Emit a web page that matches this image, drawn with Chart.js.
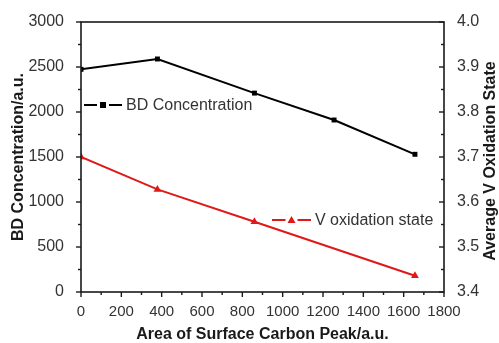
<!DOCTYPE html>
<html>
<head>
<meta charset="utf-8">
<script src="https://cdn.jsdelivr.net/npm/chart.js@4"></script>
<style>
  html, body { margin: 0; padding: 0; background: #fff; }
  #wrap { width: 499px; height: 343px; }
</style>
</head>
<body>
<div id="wrap"><canvas id="chart" width="499" height="343"></canvas></div>
<script>
// BD concentration vs surface carbon peak area
const bdArea = [0, 379, 860, 1255, 1656]
const bdConc = [2474, 2589, 2210, 1911, 1530]

// average V oxidation state (right axis)
const vArea = [0, 379, 860, 1656]
const vState = [3.70, 3.628, 3.556, 3.436]

const xTicks = [0, 200, 400, 600, 800, 1000, 1200, 1400, 1600, 1800]
const bdTicks = [0, 500, 1000, 1500, 2000, 2500, 3000]
const vTicks = [3.4, 3.5, 3.6, 3.7, 3.8, 3.9, 4.0]

const FONT = '"Liberation Sans", Arial, sans-serif'
const RED = 'rgb(224, 24, 24)'
const INK = '#1a1a1a'

const toPoints = (xs, ys) => xs.map((x, i) => ({ x, y: ys[i] }))

// fixed scale boxes so the plot area sits where it should
const fixWidth = (w) => (scale) => { scale.width = w }
const fixHeight = (h) => (scale) => { scale.height = h }

// frame, ticks (major + minor), right title and in-plot legends
const framePlugin = {
  id: 'frame',
  afterDraw (chart) {
    const { ctx, chartArea: a, scales } = chart
    const x = scales.x
    const yl = scales.y
    const yr = scales.y1
    ctx.save()
    ctx.strokeStyle = INK
    ctx.lineWidth = 1.6
    ctx.strokeRect(a.left, a.top, a.right - a.left, a.bottom - a.top)

    ctx.lineWidth = 1.4
    const line = (x0, y0, x1, y1) => {
      ctx.beginPath(); ctx.moveTo(x0, y0); ctx.lineTo(x1, y1); ctx.stroke()
    }
    // bottom axis, outward
    for (let i = 0; i < xTicks.length; i++) {
      const px = x.getPixelForValue(xTicks[i])
      line(px, a.bottom, px, a.bottom + 5)
      if (i < xTicks.length - 1) {
        const mx = x.getPixelForValue((xTicks[i] + xTicks[i + 1]) / 2)
        line(mx, a.bottom, mx, a.bottom + 3)
      }
    }
    // left axis, outward
    for (let i = 0; i < bdTicks.length; i++) {
      const py = yl.getPixelForValue(bdTicks[i])
      line(a.left - 5, py, a.left, py)
      if (i < bdTicks.length - 1) {
        const my = yl.getPixelForValue((bdTicks[i] + bdTicks[i + 1]) / 2)
        line(a.left - 3, my, a.left, my)
      }
    }
    // right axis, inward
    for (let i = 0; i < vTicks.length; i++) {
      const py = yr.getPixelForValue(vTicks[i])
      line(a.right - 5, py, a.right, py)
      if (i < vTicks.length - 1) {
        const my = yr.getPixelForValue((vTicks[i] + vTicks[i + 1]) / 2)
        line(a.right - 3, my, a.right, my)
      }
    }

    // right axis title reads bottom-to-top
    ctx.save()
    ctx.translate(491, (a.top + a.bottom) / 2 + 4)
    ctx.rotate(-Math.PI / 2)
    ctx.font = 'bold 16px ' + FONT
    ctx.fillStyle = INK
    ctx.textAlign = 'center'
    ctx.textBaseline = 'middle'
    ctx.fillText('Average V Oxidation State', 0, 0)
    ctx.restore()

    // legends
    const drawKey = (ds, x0, x1, y, tx) => {
      const mid = (x0 + x1) / 2
      ctx.strokeStyle = ds.borderColor
      ctx.lineWidth = 2
      line(x0, y, mid - 6, y)
      line(mid + 6, y, x1, y)
      ctx.fillStyle = ds.borderColor
      if (ds.pointStyle === 'rect') {
        ctx.fillRect(mid - 3, y - 3, 6, 6)
      } else {
        ctx.beginPath()
        ctx.moveTo(mid, y - 4); ctx.lineTo(mid + 4, y + 3); ctx.lineTo(mid - 4, y + 3)
        ctx.closePath(); ctx.fill()
      }
      ctx.font = '16px ' + FONT
      ctx.fillStyle = '#333'
      ctx.textAlign = 'left'
      ctx.textBaseline = 'middle'
      ctx.fillText(ds.label, tx, y + 1)
    }
    const sets = chart.data.datasets
    drawKey(sets[0], 84, 122, 105, 126)
    drawKey(sets[1], 272, 311, 220, 315)
    ctx.restore()
  }
}

new Chart(document.getElementById('chart'), {
  type: 'line',
  data: {
    datasets: [
      {
        label: 'BD Concentration',
        data: toPoints(bdArea, bdConc),
        yAxisID: 'y',
        borderColor: '#000',
        backgroundColor: '#000',
        borderWidth: 2,
        pointStyle: 'rect',
        pointRadius: 3.5,
        pointBorderWidth: 0,
        tension: 0
      },
      {
        label: 'V oxidation state',
        data: toPoints(vArea, vState),
        yAxisID: 'y1',
        borderColor: RED,
        backgroundColor: RED,
        borderWidth: 2,
        pointStyle: 'triangle',
        pointRadius: 4.5,
        pointBorderWidth: 0,
        tension: 0
      }
    ]
  },
  options: {
    responsive: false,
    animation: false,
    layout: { padding: { top: 22, left: 0, right: 0, bottom: 0 } },
    plugins: {
      legend: { display: false },
      tooltip: { enabled: false }
    },
    scales: {
      x: {
        type: 'linear',
        min: 0,
        max: 1800,
        afterFit: fixHeight(51),
        afterBuildTicks: (s) => { s.ticks = xTicks.map((v) => ({ value: v })) },
        grid: { display: false },
        border: { display: false },
        ticks: {
          padding: 3,
          maxRotation: 0,
          autoSkip: false,
          color: '#333',
          font: { family: FONT, size: 15 },
          callback: (v) => String(v)
        },
        title: {
          display: true,
          text: 'Area of Surface Carbon Peak/a.u.',
          color: INK,
          font: { family: FONT, size: 16, weight: 'bold', lineHeight: 1 },
          padding: { top: 0, bottom: 0 }
        }
      },
      y: {
        position: 'left',
        min: 0,
        max: 3000,
        afterFit: fixWidth(81),
        afterBuildTicks: (s) => { s.ticks = bdTicks.map((v) => ({ value: v })) },
        grid: { display: false },
        border: { display: false },
        ticks: {
          padding: 9,
          color: '#333',
          font: { family: FONT, size: 16 },
          callback: (v) => String(v)
        },
        title: {
          display: true,
          text: 'BD Concentration/a.u.',
          color: INK,
          font: { family: FONT, size: 16, weight: 'bold', lineHeight: 1 },
          padding: { top: 11, bottom: 0 }
        }
      },
      y1: {
        position: 'right',
        min: 3.4,
        max: 4.0,
        afterFit: fixWidth(55),
        afterBuildTicks: (s) => { s.ticks = vTicks.map((v) => ({ value: v })) },
        grid: { display: false },
        border: { display: false },
        ticks: {
          padding: 5,
          color: '#333',
          font: { family: FONT, size: 16 },
          callback: (v) => Number(v).toFixed(1)
        }
      }
    }
  },
  plugins: [framePlugin]
})
</script>
</body>
</html>
